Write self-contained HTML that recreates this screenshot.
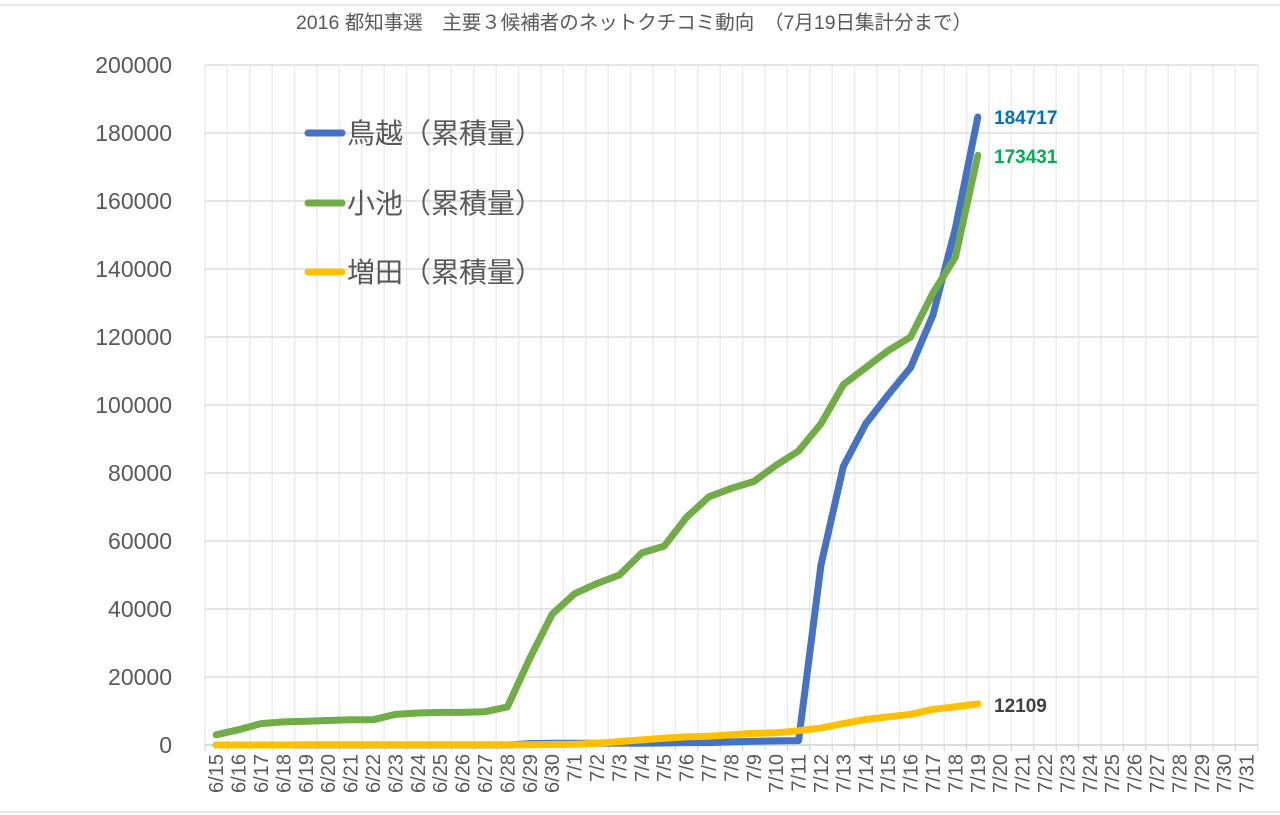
<!DOCTYPE html>
<html><head><meta charset="utf-8"><style>
html,body{margin:0;padding:0;background:#fff;}
svg{display:block;font-family:"Liberation Sans","Noto Sans CJK JP",sans-serif;}
</style></head><body>
<svg id="s" width="1280" height="815" viewBox="0 0 1280 815" xmlns="http://www.w3.org/2000/svg">
<rect x="0" y="0" width="1280" height="815" fill="#fff"/>
<line x1="0" y1="5" x2="1280" y2="5" stroke="#d0d0d0" stroke-width="1"/>
<line x1="0" y1="812" x2="1280" y2="812" stroke="#d0d0d0" stroke-width="1"/>
<text x="634" y="29" font-size="19.5" fill="#595959" text-anchor="middle">2016 都知事選　主要３候補者のネットクチコミ動向　（7月19日集計分まで）</text>
<g id="grid"></g>
<g id="ylab" font-size="23" fill="#595959" text-anchor="end"></g>
<g id="xlab" font-size="20" fill="#595959"></g>
<g id="lines" fill="none" stroke-width="7" stroke-linejoin="round" stroke-linecap="round"></g>
<g font-size="28" fill="#595959">
<line x1="308" y1="133" x2="342" y2="133" stroke="#4472C4" stroke-width="7" stroke-linecap="round"/>
<text x="347" y="143">鳥越（累積量）</text>
<line x1="308" y1="203" x2="342" y2="203" stroke="#70AD47" stroke-width="7" stroke-linecap="round"/>
<text x="347" y="213">小池（累積量）</text>
<line x1="308" y1="272" x2="342" y2="272" stroke="#FFC000" stroke-width="7" stroke-linecap="round"/>
<text x="347" y="282">増田（累積量）</text>
</g>
<g font-size="19" font-weight="bold">
<text x="994" y="124" fill="#0070C0">184717</text>
<text x="994" y="163" fill="#00B050">173431</text>
<text x="994" y="712" fill="#404040">12109</text>
</g>
</svg>
<script>
var NS="http://www.w3.org/2000/svg";
function el(t,a,p,txt){var e=document.createElementNS(NS,t);for(var k in a)e.setAttribute(k,a[k]);if(txt!=null)e.textContent=txt;document.getElementById(p).appendChild(e);return e;}
var L=205,W=22.4,N=47,T=65,B=745;
function Y(v){return B-v*0.0034;}
for(var i=0;i<=N;i++){var x=L+i*W;el("line",{x1:x,y1:T,x2:x,y2:B,stroke:"#ececec","stroke-width":1.5},"grid");}
for(var v=0;v<=200000;v+=20000){var y=Y(v);el("line",{x1:L,y1:y,x2:L+N*W,y2:y,stroke:v==0?"#d0d0d0":"#dedede","stroke-width":1.5},"grid");el("text",{x:172,y:y+8},"ylab",String(v));}
for(var i=0;i<=N;i++){var x=L+i*W;el("line",{x1:x,y1:B,x2:x,y2:B+6,stroke:"#d0d0d0","stroke-width":1},"grid");}
var labs=[];for(var d=15;d<=30;d++)labs.push("6/"+d);for(var d=1;d<=31;d++)labs.push("7/"+d);
labs.forEach(function(s,i){var x=L+W/2+i*W+7;el("text",{x:x,y:754,transform:"rotate(-90 "+x+" 754)","text-anchor":"end"},"xlab",s);});
var g=[3000,4500,6300,6800,7000,7200,7400,7400,9000,9400,9600,9600,9800,11200,25500,38500,44500,47500,50000,56500,58500,67000,73000,75500,77500,82300,86500,94500,106000,111000,116000,120000,133000,143500,173431];
var b=[0,0,0,0,0,0,0,0,0,0,0,0,0,0,400,500,500,500,600,500,600,700,700,900,1100,1200,1300,53000,82000,94500,103000,111000,126500,152000,184717];
var yl=[0,0,0,0,100,100,100,100,100,100,100,100,100,100,100,150,200,500,1000,1500,2000,2400,2600,3000,3400,3600,4200,5000,6300,7500,8300,9000,10500,11200,12109];
function pl(d,c){var p=d.map(function(v,i){return (L+W/2+i*W).toFixed(1)+","+Y(v).toFixed(1);}).join(" ");el("polyline",{points:p,stroke:c},"lines");}
pl(b,"#4472C4");pl(yl,"#FFC000");pl(g,"#70AD47");
</script>
</body></html>
